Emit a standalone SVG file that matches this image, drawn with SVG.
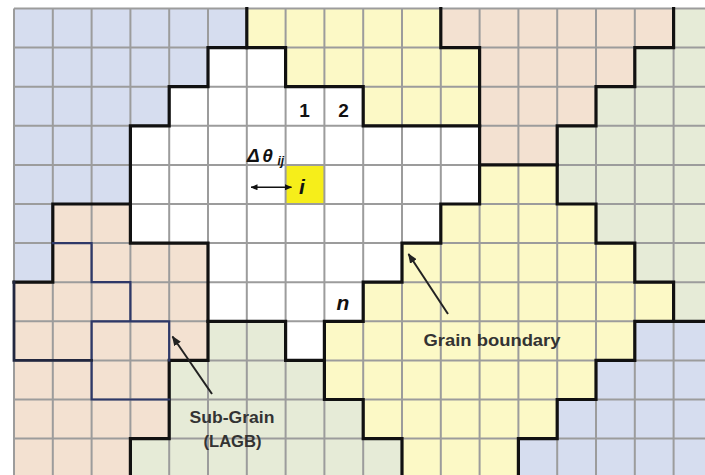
<svg xmlns="http://www.w3.org/2000/svg" width="705" height="475" viewBox="0 0 705 475">
  <defs>
    <style>
      .blue{fill:#d6ddef}
      .yel{fill:#fcf9c6}
      .peach{fill:#f3e1d1}
      .green{fill:#e6ebd7}
      .hl{fill:#f6ee1a}
      .grid{fill:none;stroke:#9c9c9c;stroke-width:2;vector-effect:non-scaling-stroke}
      .gb{fill:none;stroke:#111;stroke-width:3.2;stroke-linecap:square;stroke-linejoin:miter;vector-effect:non-scaling-stroke}
      .sg{fill:none;stroke:#2e3868;stroke-width:2.2;stroke-linecap:square;vector-effect:non-scaling-stroke}
      .sg2{fill:none;stroke:#22273f;stroke-width:2.8;stroke-linecap:square;vector-effect:non-scaling-stroke}
      .num{font-family:"Liberation Sans",Arial,sans-serif;font-weight:bold;fill:#111}
      .it{font-family:"Liberation Sans",Arial,sans-serif;font-weight:bold;font-style:italic;fill:#111}
      .lbl{font-family:"Liberation Sans",Arial,sans-serif;font-weight:bold;font-size:16px;fill:#333}
      .lead{fill:none;stroke:#222;stroke-width:2}
      .dbl{fill:none;stroke:#111;stroke-width:1.6}
    </style>
    <marker id="ah" viewBox="0 0 10 8" refX="9" refY="4" markerWidth="10" markerHeight="8" markerUnits="userSpaceOnUse" orient="auto">
      <path d="M0 0L10 4L0 8Z" fill="#222"/>
    </marker>
    <marker id="ah2" viewBox="0 0 7 6" refX="6.5" refY="3" markerWidth="7" markerHeight="6" markerUnits="userSpaceOnUse" orient="auto-start-reverse">
      <path d="M0 0L7 3L0 6Z" fill="#111"/>
    </marker>
  </defs>
  <rect x="0" y="0" width="705" height="475" fill="#ffffff"/>
  <g id="lattice" transform="translate(14 8.5) scale(38.8 39.1)">
    <g id="grains">
      <path id="grain-blue-tl" class="blue" d="M0 0H6V1H5V2H4V3H3V5H1V7H0Z"/>
      <path id="grain-blue-br" class="blue" d="M16 8H19V12.5H13V11H14V10H15V9H16Z"/>
      <path id="grain-yellow-top" class="yel" d="M6 0H11V1H12V3H9V2H7V1H6Z"/>
      <path id="grain-yellow-big" class="yel" d="M12 4H14V5H15V6H16V7H17V8H16V9H15V10H14V11H13V12.5H10V11H9V10H8V8H9V7H10V6H11V5H12Z"/>
      <path id="grain-peach-tr" class="peach" d="M11 0H17V1H16V2H15V3H14V4H12V1H11Z"/>
      <path id="grain-peach-left" class="peach" d="M1 5H3V6H5V9H4V11H3V12.5H0V7H1Z"/>
      <path id="grain-green-right" class="green" d="M17 0H19V8H17V7H16V6H15V5H14V3H15V2H16V1H17Z"/>
      <path id="grain-green-bottom" class="green" d="M5 8H7V9H8V10H9V11H10V12.5H3V11H4V9H5Z"/>
      <path id="cell-i" class="hl" d="M7 4H8V5H7Z"/>
    </g>
    <path id="grid" class="grid" d="M0 0V12.5M1 0V12.5M2 0V12.5M3 0V12.5M4 0V12.5M5 0V12.5M6 0V12.5M7 0V12.5M8 0V12.5M9 0V12.5M10 0V12.5M11 0V12.5M12 0V12.5M13 0V12.5M14 0V12.5M15 0V12.5M16 0V12.5M17 0V12.5M18 0V12.5M0 0H19M0 1H19M0 2H19M0 3H19M0 4H19M0 5H19M0 6H19M0 7H19M0 8H19M0 9H19M0 10H19M0 11H19M0 12H19"/>
    <g id="grain-boundaries">
      <path class="gb" d="M6 0V1H5V2H4V3H3V5H1V7H0"/>
      <path class="gb" d="M6 1H7V2H9V3H12"/>
      <path class="gb" d="M11 0V1H12V5H11V6H10V7H9V8H8V10H9V11H10V12.5"/>
      <path class="gb" d="M12 4H14"/>
      <path class="gb" d="M17 0V1H16V2H15V3H14V5H15V6H16V7H17V8H16V9H15V10H14V11H13V12.5M17 8H19"/>
      <path class="gb" d="M3 5V6H5V9H4V11H3V12.5"/>
      <path class="gb" d="M5 8H7V9H8"/>
    </g>
    <g id="sub-grain-boundaries">
      <path class="sg" d="M1 6H2V7H3V8M2 8H4V9M2 8V10H4"/>
      <path class="sg2" d="M0 7V9H2"/>
    </g>
  </g>
  <g id="cell-labels">
    <text class="num" x="304.5" y="116.5" font-size="19" text-anchor="middle">1</text>
    <text class="num" x="343.5" y="116.5" font-size="19" text-anchor="middle">2</text>
    <text class="it" x="302" y="193.5" font-size="21" text-anchor="middle">i</text>
    <text class="it" x="343" y="310" font-size="21" text-anchor="middle">n</text>
    <text class="it" x="247" y="161.5" font-size="19"><tspan>Δ</tspan><tspan dx="2.5">θ</tspan><tspan x="277.5" dy="3.5" font-size="12">ij</tspan></text>
  </g>
  <g id="connectors">
    <line class="dbl" x1="251" y1="187.3" x2="291.5" y2="187.3" marker-start="url(#ah2)" marker-end="url(#ah2)"/>
    <line class="lead" x1="448" y1="314" x2="408.5" y2="254" marker-end="url(#ah)"/>
    <line class="lead" x1="212" y1="394" x2="172.5" y2="336.5" marker-end="url(#ah)"/>
  </g>
  <g id="annotations">
    <text class="lbl" x="423.5" y="346" textLength="137" lengthAdjust="spacingAndGlyphs">Grain boundary</text>
    <text class="lbl" x="189.5" y="423" textLength="85" lengthAdjust="spacingAndGlyphs">Sub-Grain</text>
    <text class="lbl" x="203.5" y="447" textLength="58" lengthAdjust="spacingAndGlyphs">(LAGB)</text>
  </g>
</svg>
